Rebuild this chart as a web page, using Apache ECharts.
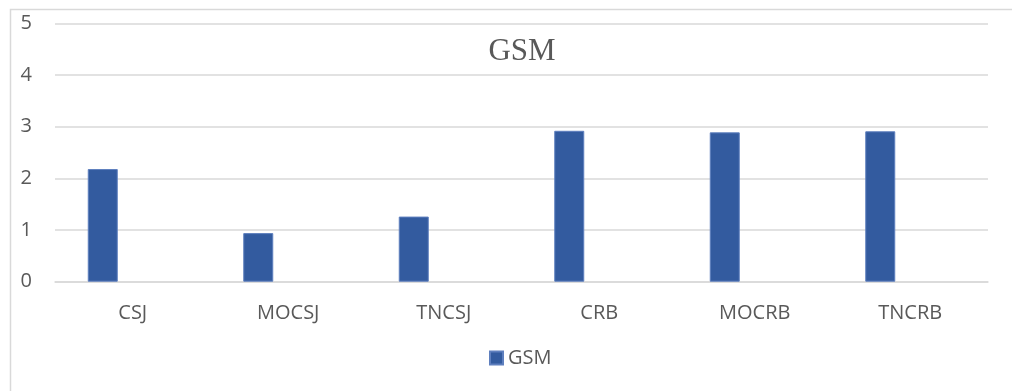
<!DOCTYPE html>
<html>
<head>
<meta charset="utf-8">
<script src="https://cdn.jsdelivr.net/npm/echarts@6/dist/echarts.min.js"></script>
<style>
  html, body { margin: 0; padding: 0; background: #ffffff; }
  #chart { width: 1012px; height: 391px; }
</style>
</head>
<body>
<div id="chart"></div>
<script>
// Sample groups and their GSM values
const categories = ['CSJ', 'MOCSJ', 'TNCSJ', 'CRB', 'MOCRB', 'TNCRB'];
const gsmValues = [2.18, 0.94, 1.26, 2.92, 2.89, 2.91];
// Empty companion series that holds the second slot of each group
const emptySlot = [null, null, null, null, null, null];
const yTicks = { min: 0, max: 5, interval: 1 };

const labelFont = '"Open Sans", "Liberation Sans", sans-serif';
const textColor = '#595959';
const lineColor = '#d9d9d9';

const chart = echarts.init(document.getElementById('chart'), null, { renderer: 'canvas' });

chart.setOption({
  animation: false,
  backgroundColor: '#ffffff',
  title: {
    text: 'GSM',
    left: 517,
    top: 31,
    textAlign: 'center',
    textStyle: {
      fontFamily: '"Liberation Serif", "DejaVu Serif", serif',
      fontWeight: 'normal',
      fontSize: 31,
      color: textColor
    }
  },
  legend: {
    data: ['GSM'],
    left: 484,
    top: 343,
    itemWidth: 13,
    itemHeight: 13,
    itemGap: 10,
    icon: 'rect',
    textStyle: { fontFamily: labelFont, fontSize: 20, color: textColor }
  },
  graphic: [{
    type: 'rect',
    silent: true,
    shape: { x: 10.5, y: 9.5, width: 1100, height: 500 },
    style: { fill: 'none', stroke: lineColor, lineWidth: 1.5 }
  }],
  grid: { left: 55, right: 24, top: 23.3, bottom: 109.3, containLabel: false },
  xAxis: {
    type: 'category',
    data: categories,
    axisLine: { show: true, lineStyle: { color: lineColor, width: 1.5 } },
    axisTick: { show: false },
    axisLabel: { fontFamily: labelFont, fontSize: 20, color: textColor, margin: 22 }
  },
  yAxis: {
    type: 'value',
    min: yTicks.min,
    max: yTicks.max,
    interval: yTicks.interval,
    axisLine: { show: false },
    axisTick: { show: false },
    axisLabel: { fontFamily: labelFont, fontSize: 20, color: textColor, margin: 23 },
    splitLine: { lineStyle: { color: lineColor, width: 1.5 } }
  },
  series: [
    {
      name: 'GSM',
      type: 'bar',
      data: gsmValues,
      barWidth: 30,
      barGap: '100%',
      itemStyle: { color: '#335B9F', borderColor: '#5E7FBE', borderWidth: 1 }
    },
    {
      name: 'spacer',
      type: 'bar',
      data: emptySlot,
      barWidth: 30,
      itemStyle: { color: '#ED7D31' }
    }
  ]
});
</script>
</body>
</html>
